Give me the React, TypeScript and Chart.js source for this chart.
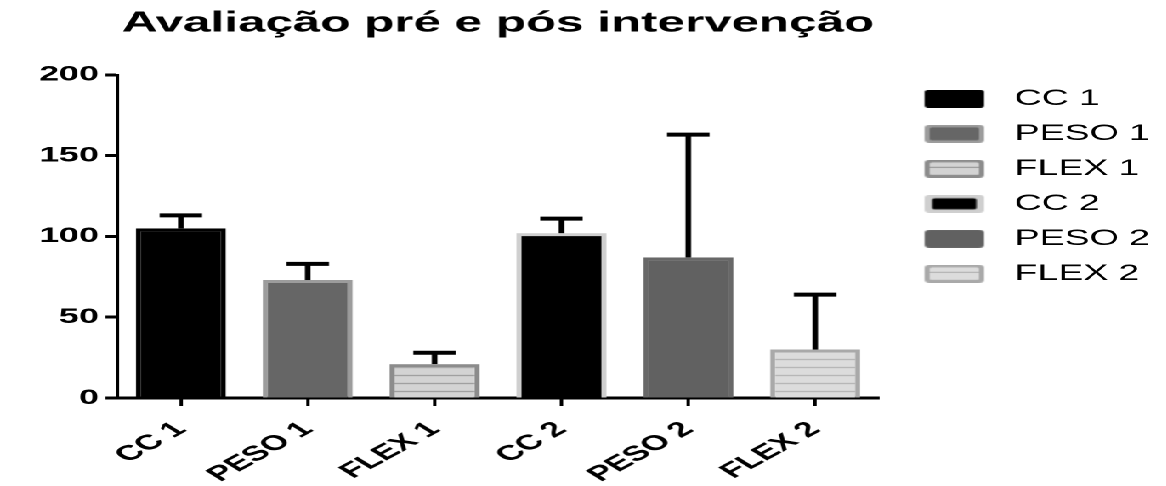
import React, { useEffect, useRef } from 'react';
import { Chart, registerables } from 'chart.js';

Chart.register(...registerables);

// ---- data ----
const titleText = 'Avaliação pré e pós intervenção';
const categories = ['CC 1', 'PESO 1', 'FLEX 1', 'CC 2', 'PESO 2', 'FLEX 2'];
const means = [105, 73, 21, 102, 87, 30];
const errorsUp = [8, 10, 7, 9, 76, 34];
const yTicks = [0, 50, 100, 150, 200];

// ---- styles ----
const FONT = 'Liberation Sans, Arial, Helvetica, sans-serif';
const SX = 1.7; // horizontal stretch of the original picture
const W = 1166 / SX;
const H = 486;
const fills = ['#000000', '#666666', 'stripeA', '#000000', '#616161', 'stripeB'];
const borders = ['#000000', '#9c9c9c', '#8c8c8c', '#cfcfcf', '#686868', '#a9a9a9'];
const stripeStyles: Record<string, [string, string]> = {
  stripeA: ['#d3d3d3', '#8f8f8f'],
  stripeB: ['#dcdcdc', '#ababab'],
};
const swatchInsets: [number, number][] = [[0, 0], [3, 2.5], [3, 2.5], [4.5, 3.5], [1, 1], [3, 2.5]];
const SW_SLOT = 56; // legend slot width
const SW_OFF = 14; // swatch offset inside slot
const SW_W = 35;
const SW_H = 18;

function stripeCanvas(bg: string, line: string) {
  const c = document.createElement('canvas');
  c.width = 8;
  c.height = 8;
  const g = c.getContext('2d')!;
  g.fillStyle = bg;
  g.fillRect(0, 0, 8, 8);
  g.fillStyle = line;
  g.fillRect(0, 7, 8, 1);
  return c;
}

function makeSwatch(i: number) {
  const c = document.createElement('canvas');
  c.width = SW_SLOT;
  c.height = SW_H;
  const g = c.getContext('2d')!;
  const x0 = SW_OFF;
  g.fillStyle = borders[i];
  g.beginPath();
  (g as any).roundRect(x0, 0, SW_W, SW_H, 3);
  g.fill();
  const [ix, iy] = swatchInsets[i];
  const f = fills[i];
  if (stripeStyles[f]) {
    const [bg, ln] = stripeStyles[f];
    g.fillStyle = g.createPattern(stripeCanvas(bg, ln), 'repeat')!;
  } else {
    g.fillStyle = f;
  }
  g.beginPath();
  (g as any).roundRect(x0 + ix, iy, SW_W - 2 * ix, SW_H - 2 * iy, ix > 0 ? 1.5 : 3);
  g.fill();
  return c;
}

const errorBarPlugin = {
  id: 'errorBars',
  afterDatasetsDraw(chart: any) {
    const meta = chart.getDatasetMeta(0);
    const ys = chart.scales.y;
    const ctx = chart.ctx as CanvasRenderingContext2D;
    ctx.save();
    ctx.strokeStyle = '#000';
    ctx.lineCap = 'butt';
    meta.data.forEach((bar: any, i: number) => {
      const x = bar.x;
      const top = ys.getPixelForValue(means[i] + errorsUp[i]);
      const base = bar.y;
      ctx.lineWidth = 3.3;
      ctx.beginPath();
      ctx.moveTo(x, base);
      ctx.lineTo(x, top);
      ctx.stroke();
      ctx.lineWidth = 4;
      ctx.beginPath();
      ctx.moveTo(x - 12.5, top);
      ctx.lineTo(x + 12.5, top);
      ctx.stroke();
    });
    ctx.restore();
  },
};

export default function App() {
  const ref = useRef<HTMLCanvasElement>(null);

  useEffect(() => {
    const canvas = ref.current!;
    const ctx = canvas.getContext('2d')!;
    const bg = fills.map((f) => {
      if (stripeStyles[f]) {
        const [b, l] = stripeStyles[f];
        return ctx.createPattern(stripeCanvas(b, l), 'repeat')!;
      }
      return f;
    });
    const swatches = categories.map((_, i) => makeSwatch(i));

    const chart = new Chart(canvas, {
      type: 'bar',
      data: {
        labels: categories,
        datasets: [
          {
            data: means,
            backgroundColor: bg as any,
            borderColor: borders,
            borderWidth: 3,
            borderSkipped: 'start',
            barPercentage: 0.71,
            categoryPercentage: 1,
          },
        ],
      },
      options: {
        animation: false,
        responsive: true,
        maintainAspectRatio: false,
        devicePixelRatio: 2,
        layout: { padding: 0 },
        plugins: {
          tooltip: { enabled: false },
          title: {
            display: true,
            text: titleText,
            fullSize: false,
            color: '#000',
            font: { family: FONT, size: 29, weight: 'bold' },
            padding: { top: 6, bottom: 34 },
          },
          legend: {
            display: true,
            position: 'right',
            align: 'start',
            fullSize: false,
            labels: {
              usePointStyle: true,
              pointStyleWidth: SW_SLOT,
              padding: 13,
              color: '#111',
              font: { family: FONT, size: 22 },
              generateLabels: () =>
                categories.map((t, i) => ({
                  text: t,
                  pointStyle: swatches[i] as any,
                  fillStyle: fills[i],
                  strokeStyle: 'transparent',
                  lineWidth: 0,
                  hidden: false,
                  index: i,
                  datasetIndex: 0,
                })),
            },
          },
        },
        scales: {
          x: {
            type: 'category',
            offset: true,
            grid: {
              display: true,
              drawOnChartArea: false,
              drawTicks: true,
              tickLength: 8,
              tickWidth: 2,
              tickColor: '#000',
              offset: false,
            },
            border: { display: true, color: '#000', width: 3 },
            ticks: {
              autoSkip: false,
              minRotation: 43,
              maxRotation: 43,
              padding: 11,
              color: '#000',
              font: { family: FONT, size: 21, weight: 'bold' },
            },
            afterFit: (s: any) => {
              s.height = 88;
            },
          },
          y: {
            min: 0,
            max: 200,
            afterBuildTicks: (s: any) => {
              s.ticks = yTicks.map((v) => ({ value: v }));
            },
            grid: {
              display: true,
              drawOnChartArea: false,
              drawTicks: true,
              tickLength: 7,
              tickWidth: 3,
              tickColor: '#000',
            },
            border: { display: true, color: '#000', width: 2 },
            ticks: {
              padding: 4,
              color: '#000',
              font: { family: FONT, size: 21, weight: 'bold' },
            },
            afterFit: (s: any) => {
              s.width = 69;
            },
          },
        },
      } as any,
      plugins: [errorBarPlugin],
    });

    return () => chart.destroy();
  }, []);

  return (
    <div
      style={{
        position: 'fixed',
        left: 0,
        top: 0,
        width: W,
        height: H,
        transform: `scaleX(${SX})`,
        transformOrigin: '0 0',
        background: '#fff',
      }}
    >
      <canvas ref={ref} />
    </div>
  );
}
